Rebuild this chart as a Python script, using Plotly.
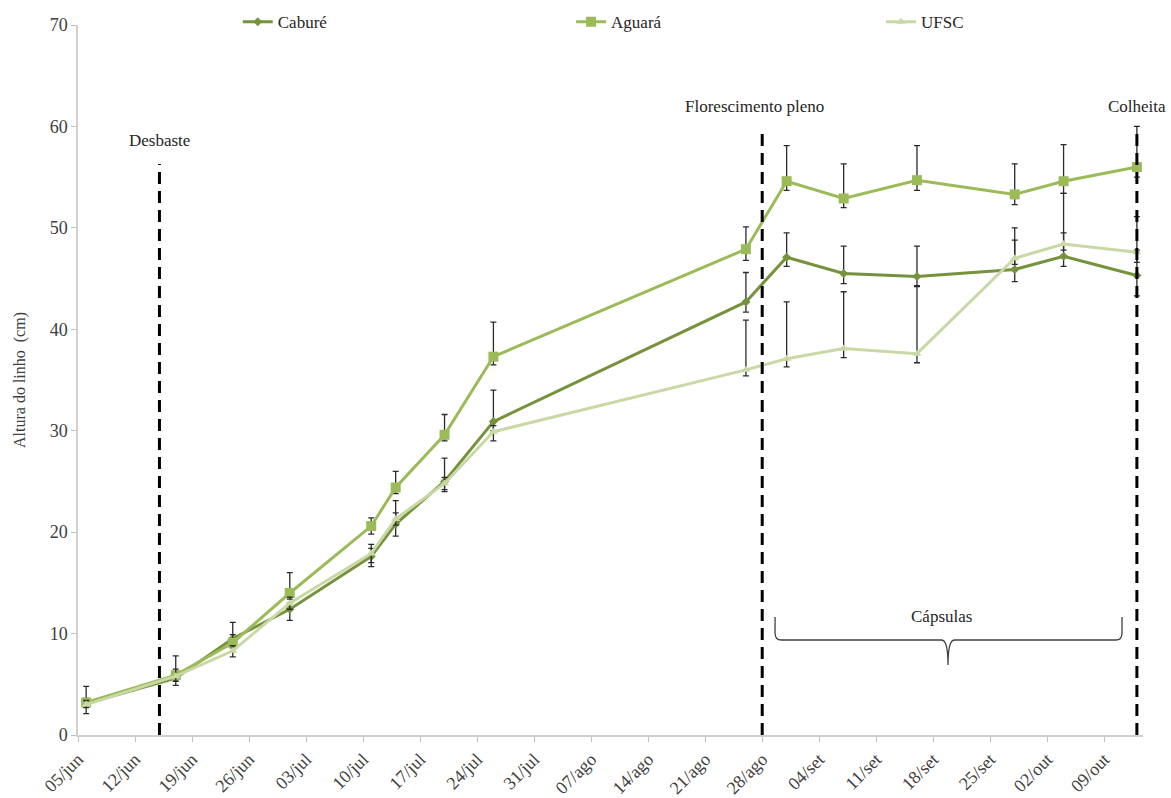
import plotly.graph_objects as go

# Sampling dates
dates = ["2016-06-06", "2016-06-17", "2016-06-24", "2016-07-01", "2016-07-11",
         "2016-07-14", "2016-07-20", "2016-07-26", "2016-08-26", "2016-08-31",
         "2016-09-07", "2016-09-16", "2016-09-28", "2016-10-04", "2016-10-13"]

# Plant height (cm) per cultivar
cabure = [3.1, 5.6, 9.5, 12.4, 17.6, 20.8, 25.0, 30.9, 42.7, 47.1, 45.5, 45.2, 45.9, 47.2, 45.3]
aguara = [3.2, 5.9, 9.1, 14.0, 20.6, 24.4, 29.6, 37.3, 47.9, 54.6, 52.9, 54.7, 53.3, 54.6, 56.0]
ufsc = [3.0, 5.8, 8.3, 13.0, 17.9, 21.3, 24.8, 29.9, 36.0, 37.1, 38.1, 37.6, 47.0, 48.4, 47.6]

# Error bars (upper / lower)
cabure_up = [1.7, 0.6, 1.6, 0.6, 1.2, 2.3, 2.3, 3.1, 2.9, 2.4, 2.7, 3.0, 2.9, 2.3, 2.5]
cabure_dn = [1.0, 0.7, 0.6, 1.1, 1.0, 1.2, 1.0, 0.9, 1.0, 0.9, 1.0, 0.9, 1.2, 1.0, 2.0]
aguara_up = [0.4, 0.6, 0.8, 2.0, 0.8, 1.6, 2.0, 3.4, 2.2, 3.5, 3.4, 3.4, 3.0, 3.6, 4.0]
aguara_dn = [0.3, 0.4, 0.5, 0.6, 0.8, 0.6, 0.6, 0.8, 1.1, 0.9, 0.9, 1.0, 1.0, 1.2, 1.0]
ufsc_up = [0.4, 2.0, 0.5, 0.6, 0.5, 0.6, 0.6, 0.6, 4.9, 5.6, 5.6, 6.6, 3.0, 5.0, 3.5]
ufsc_dn = [0.3, 0.5, 0.6, 0.6, 0.9, 0.6, 0.6, 0.9, 0.6, 0.8, 0.9, 0.9, 0.6, 0.6, 1.0]

# Weekly axis ticks
tick_dates = ["2016-06-05", "2016-06-12", "2016-06-19", "2016-06-26", "2016-07-03",
              "2016-07-10", "2016-07-17", "2016-07-24", "2016-07-31", "2016-08-07",
              "2016-08-14", "2016-08-21", "2016-08-28", "2016-09-04", "2016-09-11",
              "2016-09-18", "2016-09-25", "2016-10-02", "2016-10-09"]
tick_labels = ["05/jun", "12/jun", "19/jun", "26/jun", "03/jul", "10/jul", "17/jul",
               "24/jul", "31/jul", "07/ago", "14/ago", "21/ago", "28/ago", "04/set",
               "11/set", "18/set", "25/set", "02/out", "09/out"]

# Crop events
event_names = ["Desbaste", "Florescimento pleno", "Colheita"]
event_dates = ["2016-06-15", "2016-08-28", "2016-10-13"]
event_tops = [56.3, 59.6, 60.0]

FONT = "Liberation Serif, Times New Roman, serif"
ERR_COLOR = "#2b2b2b"
TEXT = "#262626"

fig = go.Figure()

# one legend box per cultivar, spread across the top
series = [
    ("Caburé", cabure, cabure_up, cabure_dn, "#76923c", "diamond", 7, "legend"),
    ("Aguará", aguara, aguara_up, aguara_dn, "#9bbb59", "square", 10, "legend2"),
    ("UFSC", ufsc, ufsc_up, ufsc_dn, "#c9d9a6", "triangle-up", 8, "legend3"),
]
for name, vals, up, dn, color, sym, size, leg in series:
    fig.add_trace(go.Scatter(
        x=dates, y=vals, name=name, mode="lines+markers", legend=leg,
        line=dict(color=color, width=3),
        marker=dict(color=color, symbol=sym, size=size),
        error_y=dict(type="data", symmetric=False, array=up, arrayminus=dn,
                     color=ERR_COLOR, thickness=1.3, width=3),
    ))

# Event lines and labels
for name, d, top in zip(event_names, event_dates, event_tops):
    fig.add_shape(type="line", xref="x", yref="y", x0=d, x1=d, y0=0, y1=top,
                  line=dict(color="black", width=3, dash="12px,7px"))

label_font = dict(family=FONT, size=17, color=TEXT)
fig.add_annotation(x=event_dates[0], y=58.6, text="Desbaste", showarrow=False,
                   xanchor="center", yanchor="middle", font=label_font)
fig.add_annotation(x="2016-08-27", y=62.0, text="Florescimento pleno", showarrow=False,
                   xanchor="center", yanchor="middle", font=label_font)
fig.add_annotation(x=event_dates[2], y=62.0, text="Colheita", showarrow=False,
                   xanchor="center", yanchor="middle", font=label_font)
fig.add_annotation(x="2016-09-19", y=11.7, text="Cápsulas", showarrow=False,
                   xanchor="center", yanchor="middle", font=label_font)

# Brace spanning the capsule phase (paper coordinates)
xl, xc, xr = 0.6545, 0.8169, 0.9803
yt, ym, yb = 0.1662, 0.1338, 0.0986
dx = 0.006
brace = (f"M {xl},{yt} L {xl},{ym + 0.01} Q {xl},{ym} {xl + dx},{ym} "
         f"L {xc - dx},{ym} Q {xc},{ym} {xc},{yb} "
         f"Q {xc},{ym} {xc + dx},{ym} L {xr - dx},{ym} "
         f"Q {xr},{ym} {xr},{ym + 0.01} L {xr},{yt}")
fig.add_shape(type="path", xref="paper", yref="paper", path=brace,
              line=dict(color="#404040", width=1.3))

legend_common = dict(y=1.004, xanchor="left", yanchor="middle", itemwidth=30,
                     font=dict(family=FONT, size=17, color=TEXT),
                     bgcolor="rgba(0,0,0,0)")

fig.update_layout(
    width=1171, height=798,
    margin=dict(l=78, r=28, t=25, b=63, autoexpand=False),
    plot_bgcolor="white", paper_bgcolor="white",
    font=dict(family=FONT, size=13, color="#404040"),
    showlegend=True,
    legend=dict(x=0.150, **legend_common),
    legend2=dict(x=0.463, **legend_common),
    legend3=dict(x=0.754, **legend_common),
    xaxis=dict(
        type="date", range=["2016-06-05", "2016-10-13 18:00"],
        tickvals=tick_dates, ticktext=tick_labels, tickangle=-45,
        ticks="outside", ticklen=5, tickcolor="#bfbfbf",
        showline=True, linecolor="#d0d0d0", linewidth=1.5,
        showgrid=False, zeroline=False, automargin=False,
        tickfont=dict(family=FONT, size=18, color="#404040"),
    ),
    yaxis=dict(
        range=[0, 70], dtick=10, ticks="outside", ticklen=5, tickcolor="#bfbfbf",
        showline=True, linecolor="#d0d0d0", linewidth=1.5,
        showgrid=False, zeroline=False, automargin=False,
        tickfont=dict(family=FONT, size=18, color="#404040"),
        title=dict(text="Altura do linho  (cm)", standoff=20,
                   font=dict(family=FONT, size=16, color="#404040")),
    ),
)

fig.write_html("out.html")
